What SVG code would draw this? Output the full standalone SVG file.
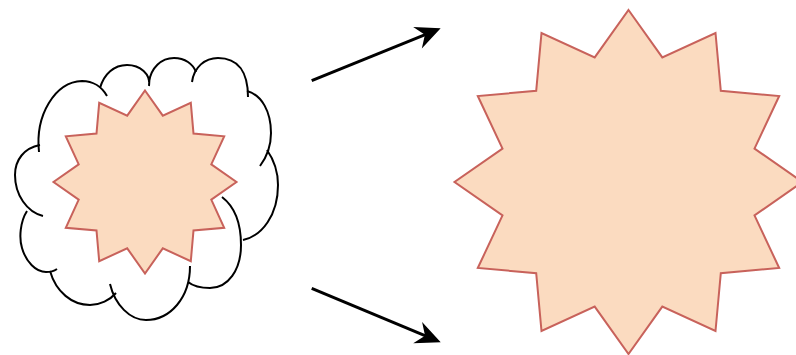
<svg xmlns="http://www.w3.org/2000/svg" width="796" height="355" viewBox="0 0 796 355">
  <style>
    .cloud { fill: none; stroke: #000; stroke-width: 2; stroke-linecap: butt; }
    .star { fill: #fbdbc0; stroke: #c8625b; stroke-width: 2; stroke-linejoin: miter; }
    .edge { fill: none; stroke: #000; stroke-width: 3; }
  </style>
  <defs>
    <marker id="arrow" markerUnits="userSpaceOnUse" orient="auto" refX="0" refY="0" markerWidth="40" markerHeight="40" overflow="visible">
      <path d="M10,0 L-15,-11.5 L-7,0 L-15,11.5 Z" fill="#000" stroke="none"/>
    </marker>
  </defs>
  <rect width="796" height="355" fill="#fff"/>
  <g id="cloud">
    <path class="cloud" d="M39,152 C35,115 55,82 82,81 C93,81 102,87 107,96"/>
    <path class="cloud" d="M100,88 C104,74 114,65 127,65 C140,65 151,74 149,86"/>
    <path class="cloud" d="M149,82 C151,68 161,58 174,58 C185,58 193,64 196,72"/>
    <path class="cloud" d="M192,82 C194,67 205,58 218,58 C238,58 248,72 248,97"/>
    <path class="cloud" d="M247,91 C262,95 271,112 271,133 C271,148 266,158 260,166"/>
    <path class="cloud" d="M267,150 C274,160 278,172 278,185 C278,215 262,236 243,240"/>
    <path class="cloud" d="M222,197 C235,207 241,225 241,245 C241,270 228,288 210,288 C200,288 193,286 188,282"/>
    <path class="cloud" d="M190,266 C190,298 170,320 146,320 C130,320 115,305 110,284"/>
    <path class="cloud" d="M50,271 C56,292 72,305 90,305 C100,305 110,300 116,293"/>
    <path class="cloud" d="M27,211 C20,222 19,238 22,248 C26,262 36,272 46,272 C50,272 54,271 57,269"/>
    <path class="cloud" d="M40,145 C24,148 15,160 15,175 C15,195 27,212 43,216"/>
  </g>
  <g id="small-star">
    <polygon class="star" points="145,90.5 162.8,115.7 190.8,102.8 193.5,133.5 224.2,136.3 211.3,164.3 236.5,182 211.3,199.7 224.2,227.8 193.5,230.5 190.8,261.2 162.8,248.3 145,273.5 127.2,248.3 99.2,261.2 96.5,230.5 65.8,227.8 78.7,199.7 53.5,182 78.7,164.3 65.8,136.3 96.5,133.5 99.2,102.8 127.2,115.7"/>
  </g>
  <g id="large-star">
    <polygon class="star" points="628.5,10 662.3,57.4 715.5,33 720.8,90.8 779.2,96 754.5,148.6 802.5,182 754.5,215.4 779.2,268 720.8,273.2 715.5,331 662.3,306.6 628.5,354 594.7,306.6 541.5,331 536.2,273.2 477.8,268 502.5,215.4 454.5,182 502.5,148.6 477.8,96 536.2,90.8 541.5,33 594.7,57.4"/>
  </g>
  <g id="connectors">
    <line class="edge" x1="311.7" y1="80.7" x2="431.4" y2="32.1" marker-end="url(#arrow)"/>
    <line class="edge" x1="311.7" y1="288.3" x2="431.5" y2="338.4" marker-end="url(#arrow)"/>
  </g>
</svg>
